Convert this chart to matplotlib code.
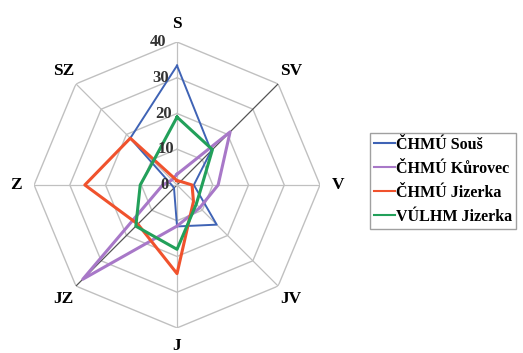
import numpy as np
import matplotlib
matplotlib.use("Agg")
import matplotlib.pyplot as plt

directions = ["S", "SV", "V", "JV", "J", "JZ", "Z", "SZ"]
ticks = [0, 10, 20, 30, 40]

souš = [33.4, 13.5, 4.7, 15.7, 11.6, 1.2, 1.5, 18.5]
kurovec = [3.0, 21.0, 11.5, 9.0, 11.5, 37.3, 4.0, 2.0]
jizerka_chmu = [1.2, 1.4, 4.2, 6.5, 24.8, 15.5, 25.8, 18.5]
jizerka_vulhm = [19.0, 14.0, 7.0, 7.6, 18.0, 16.3, 10.3, 9.4]

names = ["ČHMÚ Souš", "ČHMÚ Kůrovec", "ČHMÚ Jizerka", "VÚLHM Jizerka"]
colors = ["#3f63b5", "#a878c8", "#f0522d", "#22a05a"]
widths = [1.4, 2.2, 2.2, 2.2]

plt.rcParams['font.family'] = ['Liberation Serif', 'DejaVu Serif']

fig = plt.figure(figsize=(5.23, 3.53), dpi=100)
ax = fig.add_axes([0.065, 0.071, 0.547, 0.81], projection="polar")
ax.set_theta_zero_location("N")
ax.set_theta_direction(-1)
ax.set_ylim(0, 40)
ax.grid(False)
ax.spines["polar"].set_visible(False)
ax.set_xticks([])
ax.set_yticks([])

theta = np.linspace(0, 2 * np.pi, len(directions), endpoint=False)
closed = np.append(theta, theta[0])

# octagon grid
for r in ticks[1:]:
    ax.plot(closed, [r] * len(closed), color="#c0c0c0", lw=1.0, zorder=1)
for i, t in enumerate(theta):
    c = "#555555" if directions[i] in ("SV", "JZ") else "#c0c0c0"
    ax.plot([t, t], [0, 40], color=c, lw=0.9, zorder=1)

for vals, name, col, lw in zip([souš, kurovec, jizerka_chmu, jizerka_vulhm],
                               names, colors, widths):
    ax.plot(closed, vals + vals[:1], color=col, lw=lw, label=name, zorder=3)

# radial tick labels
for r in ticks:
    ax.text(np.deg2rad(-4.5) if r else np.deg2rad(-90), r if r else 3.4, str(r),
            ha="right" if r else "center", va="center", fontsize=12,
            fontweight="bold", color="#333333", zorder=4)

# direction labels
for t, d in zip(theta, directions):
    ax.text(t, 45, d, ha="center", va="center", fontsize=12.5,
            fontweight="bold", clip_on=False)

leg = fig.legend(loc="upper left", bbox_to_anchor=(0.7075, 0.623),
                 borderaxespad=0, handlelength=1.3, handletextpad=0.1,
                 labelspacing=0.5, borderpad=0.25, fancybox=False,
                 framealpha=1, edgecolor="#a0a0a0",
                 prop={"weight": "bold", "size": 11.5})
for line in leg.get_lines():
    line.set_linewidth(1.5)

fig.savefig("out.png", dpi=100)
